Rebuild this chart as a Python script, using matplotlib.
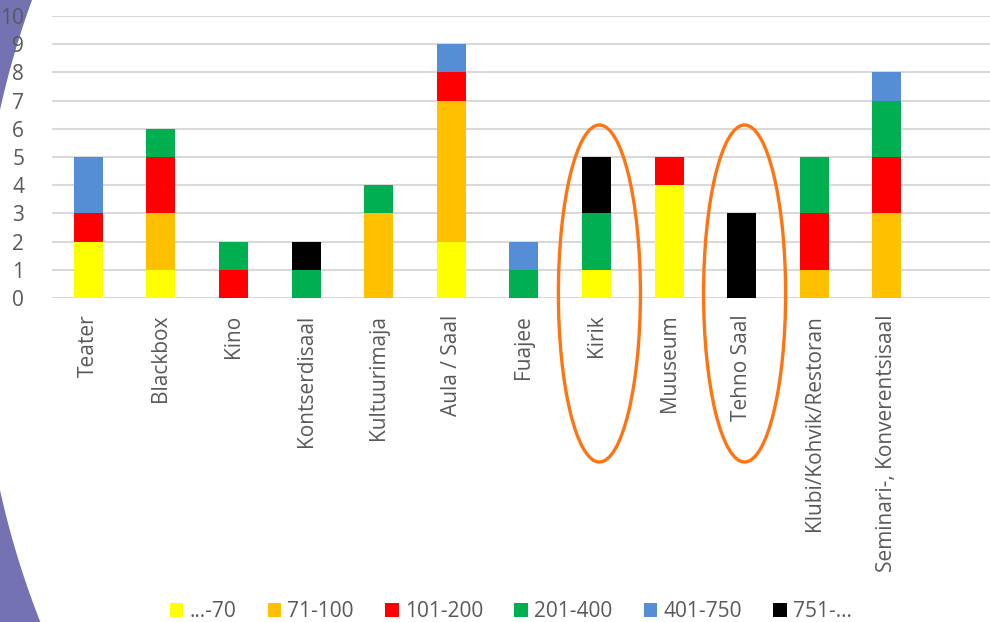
"""Stacked bar chart of venue counts by capacity group."""

import matplotlib.pyplot as plt
from matplotlib.patches import Ellipse, Polygon
import numpy as np

plt.rcParams["font.family"] = ["Open Sans", "DejaVu Sans"]

venues = [
    "Teater", "Blackbox", "Kino", "Kontserdisaal", "Kultuurimaja",
    "Aula / Saal", "Fuajee", "Kirik", "Muuseum", "Tehno Saal",
    "Klubi/Kohvik/Restoran", "Seminari-, Konverentsisaal",
]
groups = ["...-70", "71-100", "101-200", "201-400", "401-750", "751-..."]
colors = ["#FFFF00", "#FFC000", "#FF0000", "#00B050", "#558ED5", "#000000"]

upto_70 = [2, 1, 0, 0, 0, 2, 0, 1, 4, 0, 0, 0]
from_71 = [0, 2, 0, 0, 3, 5, 0, 0, 0, 0, 1, 3]
from_101 = [1, 2, 1, 0, 0, 1, 0, 0, 1, 0, 2, 2]
from_201 = [0, 1, 1, 1, 1, 0, 1, 2, 0, 0, 2, 2]
from_401 = [2, 0, 0, 0, 0, 1, 1, 0, 0, 0, 0, 1]
from_751 = [0, 0, 0, 1, 0, 0, 0, 2, 0, 3, 0, 0]
series = [upto_70, from_71, from_101, from_201, from_401, from_751]

highlighted = ["Kirik", "Tehno Saal"]

fig = plt.figure(figsize=(9.9, 6.22), dpi=100)

# Purple page decoration on the left edge (outside a large circle).
yy = np.linspace(0, 622, 200)
edge_x = 858 - np.sqrt(878.8 ** 2 - (yy - 300) ** 2)
pts = [(0, 1)] + [(px / 990, 1 - py / 622) for px, py in zip(edge_x, yy)] + [(0, 0)]
fig.patches.append(Polygon(pts, closed=True, transform=fig.transFigure,
                           facecolor="#7472B2", edgecolor="none", zorder=0))

ax = fig.add_axes([0.0525, 0.5209, 0.9475, 0.4534])
ax.set_facecolor("none")
ax.set_zorder(2)

x = np.arange(len(venues))
bottom = np.zeros(len(venues))
for label, values, color in zip(groups, series, colors):
    ax.bar(x, values, width=0.4, bottom=bottom, color=color, label=label,
           zorder=3)
    bottom += np.array(values)

ax.set_xlim(-0.5, 12.42)
ax.set_ylim(0, 10)
ax.set_yticks(range(0, 11))
ax.yaxis.grid(True, color="#D9D9D9", linewidth=1.5, zorder=0)
ax.set_xticks(x)
ax.set_xticklabels(venues, rotation=90)
ax.tick_params(axis="both", length=0, labelsize=15, labelcolor="#595959")
ax.tick_params(axis="y", pad=20)
ax.tick_params(axis="x", pad=12)
for spine in ax.spines.values():
    spine.set_visible(False)

# Orange rings around the highlighted venues.
for name in highlighted:
    i = venues.index(name)
    ax.add_patch(Ellipse((i + 0.04, 0.16), width=1.13, height=11.95,
                         fill=False, edgecolor="#FF7410", linewidth=2.4,
                         clip_on=False, zorder=4))

fig.legend(loc="center", bbox_to_anchor=(0.516, 0.017), ncol=6,
           frameon=False, fontsize=15, labelcolor="#595959",
           handlelength=0.65, handleheight=0.65, handletextpad=0.3,
           columnspacing=1.5)

fig.savefig("out.png", dpi=100)
